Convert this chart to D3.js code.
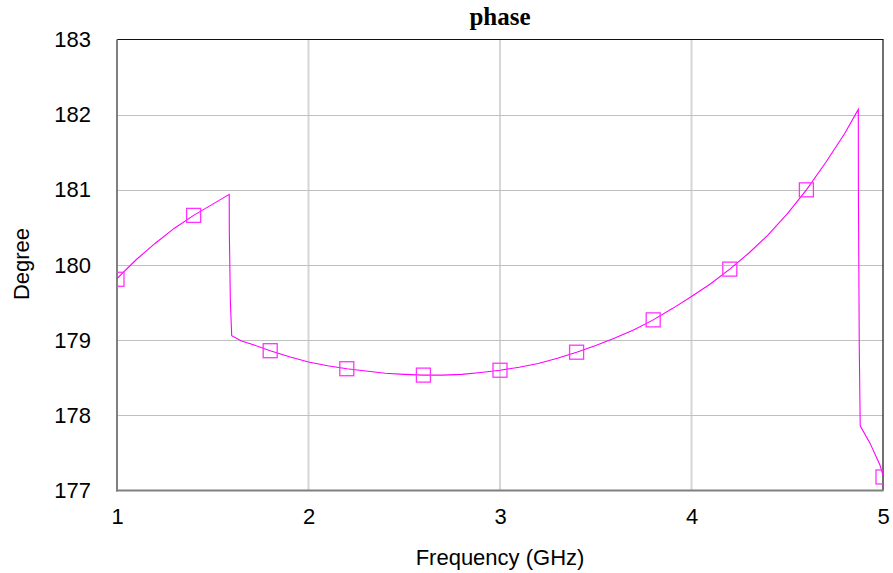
<!DOCTYPE html>
<html>
<head>
<meta charset="utf-8">
<script src="https://cdn.jsdelivr.net/npm/d3@7"></script>
<style>
  html, body { margin: 0; padding: 0; background: #fff; }
  svg { display: block; }
</style>
</head>
<body>
<svg id="chart" width="893" height="573"></svg>
<script>
// Phase response vs frequency (sampled trace)
const traceFreq = [
  1.0, 1.1, 1.2, 1.3, 1.4, 1.5, 1.586,
  1.5865, 1.592, 1.599,
  1.65, 1.7, 1.8, 1.9, 2.0, 2.1, 2.2, 2.3, 2.4, 2.5, 2.6, 2.7, 2.8, 2.9,
  3.0, 3.1, 3.2, 3.3, 3.4, 3.5, 3.6, 3.7, 3.8, 3.9, 4.0, 4.1, 4.2, 4.3,
  4.4, 4.5, 4.6, 4.7, 4.8, 4.871,
  4.8715, 4.876, 4.881, 4.932, 4.984, 5.0
];
const tracePhase = [
  179.82, 180.07, 180.29, 180.49, 180.66, 180.81, 180.94,
  180.46, 179.51, 179.06,
  178.99, 178.95, 178.86, 178.78, 178.71, 178.66, 178.62, 178.59, 178.56, 178.545, 178.535, 178.535, 178.545, 178.57,
  178.60, 178.64, 178.69, 178.76, 178.84, 178.93, 179.03, 179.14, 179.27, 179.42, 179.58, 179.75, 179.945, 180.16,
  180.40, 180.68, 181.0, 181.36, 181.75, 182.07,
  181.03, 178.93, 177.86, 177.63, 177.34, 177.2
];

// Marker positions along the trace
const markerFreq  = [1.0, 1.4, 1.8, 2.2, 2.6, 3.0, 3.4, 3.8, 4.2, 4.6, 5.0];
const markerPhase = [179.81, 180.66, 178.86, 178.62, 178.535, 178.60, 178.84, 179.27, 179.945, 181.0, 177.18];

const xTicks = [1, 2, 3, 4, 5];
const yTicks = [177, 178, 179, 180, 181, 182, 183];

const svg = d3.select("#chart");
const plot = { left: 117, right: 883, top: 39.5, bottom: 490.5 };

const x = d3.scaleLinear().domain([1, 5]).range([plot.left, plot.right]);
const y = d3.scaleLinear().domain([177, 183]).range([plot.bottom, plot.top]);

svg.append("defs").append("clipPath").attr("id", "plotClip")
  .append("rect")
  .attr("x", plot.left).attr("y", plot.top)
  .attr("width", plot.right - plot.left).attr("height", plot.bottom - plot.top);

// Grid
svg.append("g").selectAll("line").data(xTicks.slice(1, -1)).join("line")
  .attr("x1", d => x(d)).attr("x2", d => x(d))
  .attr("y1", plot.top).attr("y2", plot.bottom)
  .attr("stroke", "#d6d6d6").attr("stroke-width", 2);
svg.append("g").selectAll("line").data(yTicks.slice(1, -1)).join("line")
  .attr("x1", plot.left).attr("x2", plot.right)
  .attr("y1", d => Math.round(y(d)) + 0.5).attr("y2", d => Math.round(y(d)) + 0.5)
  .attr("stroke", "#c0c0c0").attr("stroke-width", 1);

// Frame: dark top/right, gray left/bottom axes
svg.append("line").attr("x1", plot.left).attr("x2", plot.right + 0.5)
  .attr("y1", plot.top).attr("y2", plot.top).attr("stroke", "#111").attr("stroke-width", 1.2);
svg.append("line").attr("x1", plot.right).attr("x2", plot.right)
  .attr("y1", plot.top).attr("y2", plot.bottom).attr("stroke", "#111").attr("stroke-width", 1.2);
svg.append("line").attr("x1", plot.left).attr("x2", plot.left)
  .attr("y1", plot.top).attr("y2", plot.bottom + 1).attr("stroke", "#808080").attr("stroke-width", 2);
svg.append("line").attr("x1", plot.left - 1).attr("x2", plot.right + 0.5)
  .attr("y1", plot.bottom).attr("y2", plot.bottom).attr("stroke", "#808080").attr("stroke-width", 2);

// Axes (labels only)
const yAxis = d3.axisLeft(y).tickValues(yTicks).tickSize(0).tickPadding(26).tickFormat(d3.format("d"));
const gy = svg.append("g").attr("transform", `translate(${plot.left},0)`).call(yAxis);
gy.select(".domain").remove();
gy.selectAll("text").attr("font-family", "Liberation Sans, Arial, sans-serif")
  .attr("font-size", 22).attr("fill", "#000");

const xAxis = d3.axisBottom(x).tickValues(xTicks).tickSize(0).tickPadding(18).tickFormat(d3.format("d"));
const gx = svg.append("g").attr("transform", `translate(0,${plot.bottom})`).call(xAxis);
gx.select(".domain").remove();
gx.selectAll("text").attr("font-family", "Liberation Sans, Arial, sans-serif")
  .attr("font-size", 22).attr("fill", "#000");

// Titles
svg.append("text").attr("x", (plot.left + plot.right) / 2).attr("y", 25)
  .attr("text-anchor", "middle").attr("font-family", "Liberation Serif, Times New Roman, serif")
  .attr("font-weight", "bold").attr("font-size", 25).text("phase");
svg.append("text").attr("x", (plot.left + plot.right) / 2).attr("y", 565)
  .attr("text-anchor", "middle").attr("font-family", "Liberation Sans, Arial, sans-serif")
  .attr("font-size", 22).text("Frequency (GHz)");
svg.append("text").attr("transform", "translate(29,264) rotate(-90)")
  .attr("text-anchor", "middle").attr("font-family", "Liberation Sans, Arial, sans-serif")
  .attr("font-size", 22).text("Degree");

// Trace
const pts = traceFreq.map((f, i) => [f, tracePhase[i]]);
const line = d3.line().x(d => x(d[0])).y(d => y(d[1]));
const g = svg.append("g").attr("clip-path", "url(#plotClip)");
g.append("path").attr("d", line(pts)).attr("fill", "none")
  .attr("stroke", "#ff00ff").attr("stroke-width", 1.1);

// Markers
const ms = 14;
g.selectAll("rect.m").data(markerFreq.map((f, i) => [f, markerPhase[i]])).join("rect")
  .attr("class", "m")
  .attr("x", d => x(d[0]) - ms / 2).attr("y", d => y(d[1]) - ms / 2)
  .attr("width", ms).attr("height", ms)
  .attr("fill", "none").attr("stroke", "#ff33ff").attr("stroke-width", 1.3);
</script>
</body>
</html>
